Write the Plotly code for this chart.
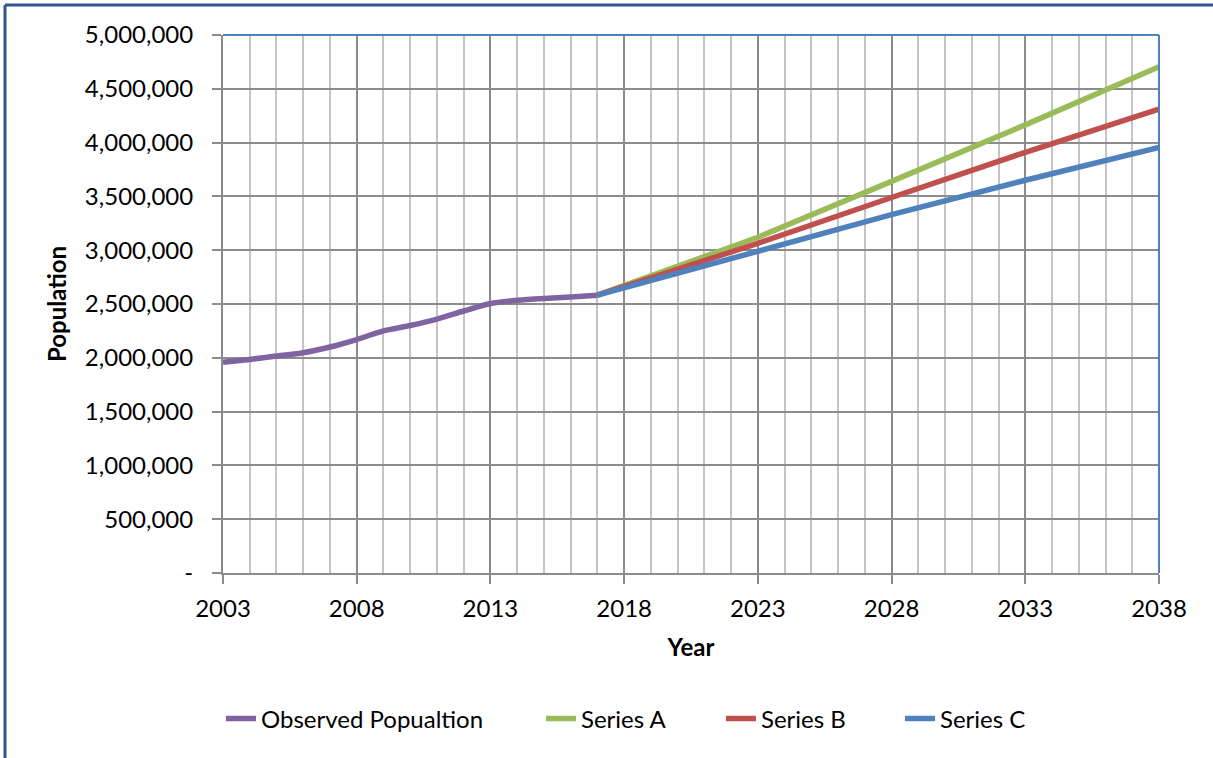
import plotly.graph_objects as go

# Observed population
obs_years = [2003, 2004, 2005, 2006, 2007, 2008, 2009, 2010, 2011, 2012, 2013, 2014, 2015, 2016, 2017]
obs_pop = [1958000, 1985000, 2016000, 2047000, 2100000, 2170000, 2250000, 2300000, 2360000, 2435000,
           2505000, 2535000, 2552000, 2565000, 2582000]

# Projection series (read at key years)
proj_years = [2017, 2023, 2028, 2033, 2038]
series_a = [2582000, 3120000, 3640000, 4165000, 4705000]
series_b = [2582000, 3064000, 3490000, 3910000, 4312000]
series_c = [2582000, 2995000, 3330000, 3650000, 3956000]

y_tickvals = [0, 500000, 1000000, 1500000, 2000000, 2500000, 3000000, 3500000, 4000000, 4500000, 5000000]
y_ticktext = ["-", "500,000", "1,000,000", "1,500,000", "2,000,000", "2,500,000", "3,000,000",
              "3,500,000", "4,000,000", "4,500,000", "5,000,000"]
x_tickvals = [2003, 2008, 2013, 2018, 2023, 2028, 2033, 2038]

FONT = "Lato"
FS = 24
W, H = 1213, 758
L, R, T, B = 223, 54, 35, 185
PW, PH = W - L - R, H - T - B


def px_x(p):
    return (p - L) / PW


def px_y(p):
    return (H - B - p) / PH


fig = go.Figure()
fig.add_trace(go.Scatter(x=obs_years, y=obs_pop, mode="lines", name="Observed Popualtion",
                         line=dict(color="#8064A2", width=5.5, shape="spline", smoothing=0.6),
                         legend="legend"))
fig.add_trace(go.Scatter(x=proj_years, y=series_a, mode="lines", name="Series A",
                         line=dict(color="#9BBB59", width=5.5), legend="legend2"))
fig.add_trace(go.Scatter(x=proj_years, y=series_b, mode="lines", name="Series B",
                         line=dict(color="#C0504D", width=5.5), legend="legend3"))
fig.add_trace(go.Scatter(x=proj_years, y=series_c, mode="lines", name="Series C",
                         line=dict(color="#4F81BD", width=5.5), legend="legend4"))

text_starts = [262, 582, 762, 941]
leg_common = dict(orientation="h", xanchor="left", yanchor="middle", y=px_y(719),
                  font=dict(family=FONT, size=FS), bgcolor="rgba(0,0,0,0)")
legends = {}
for i, ts in enumerate(text_starts):
    key = "legend" if i == 0 else f"legend{i + 1}"
    legends[key] = dict(leg_common, x=px_x(ts - 41))

fig.update_layout(
    width=W, height=H,
    margin=dict(l=L, r=R, t=T, b=B),
    paper_bgcolor="white", plot_bgcolor="white",
    font=dict(family=FONT, size=FS, color="black"),
    showlegend=True,
    **legends,
    xaxis=dict(
        range=[2003, 2038], tickvals=x_tickvals, ticktext=[str(v) for v in x_tickvals],
        showgrid=True, gridcolor="#8C8C8C", gridwidth=2,
        minor=dict(dtick=1, tick0=2003, showgrid=True, gridcolor="#C4C4C4", gridwidth=2),
        showline=True, linecolor="#8C8C8C", linewidth=2,
        ticks="outside", ticklen=9, tickcolor="#8C8C8C", tickwidth=2,
        ticklabelstandoff=4,
        zeroline=False,
        title=dict(text="<b>Year</b>", standoff=18, font=dict(family=FONT, size=FS)),
    ),
    yaxis=dict(
        range=[0, 5000000], tickvals=y_tickvals, ticktext=y_ticktext,
        showgrid=True, gridcolor="#8C8C8C", gridwidth=2,
        showline=True, linecolor="#8C8C8C", linewidth=2,
        ticks="outside", ticklen=9, tickcolor="#8C8C8C", tickwidth=2,
        ticklabelstandoff=14,
        zeroline=False,
        title=dict(text="<b>Population</b>", standoff=11, font=dict(family=FONT, size=FS)),
    ),
)

# Blue plot-area border on top and right
fig.add_shape(type="line", xref="paper", yref="paper", x0=0, x1=1, y0=1, y1=1,
              line=dict(color="#4F81BD", width=2), layer="above")
fig.add_shape(type="line", xref="paper", yref="paper", x0=1, x1=1, y0=0, y1=1,
              line=dict(color="#4F81BD", width=2), layer="above")
# Outer chart border (dark blue), left and top edges only visible
fig.add_shape(type="line", xref="paper", yref="paper",
              x0=px_x(5), x1=px_x(1400), y0=px_y(5), y1=px_y(5),
              line=dict(color="#2F5597", width=3), layer="above")
fig.add_shape(type="line", xref="paper", yref="paper",
              x0=px_x(5), x1=px_x(5), y0=px_y(900), y1=px_y(5),
              line=dict(color="#2F5597", width=3), layer="above")

fig.write_html("out.html", config={"displayModeBar": False},
               post_script="document.body.style.margin='0';")
